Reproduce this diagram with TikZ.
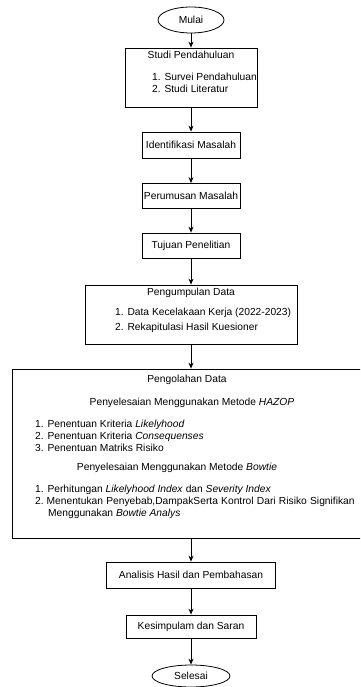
\documentclass[tikz,border=0pt]{standalone}
\usepackage{fontspec}
\setmainfont{Liberation Sans}
\usetikzlibrary{shapes.geometric,arrows.meta}
\tikzset{
	kotak/.style={draw,rectangle,line width=0.8pt,inner sep=0pt},
	oval/.style={draw,ellipse,line width=0.8pt,inner sep=0pt},
	isi/.style={inner sep=0pt}
}
\begin{document}
\begin{tikzpicture}[>={Stealth[length=6pt,width=5pt]},x=1pt,y=-1pt,font=\fontsize{10.25}{12}\selectfont]
		\useasboundingbox (0,0) rectangle (360,687);
		\clip (0,0) rectangle (360,687);
		% terminal dan kotak proses
		\node[oval,minimum width=66pt,minimum height=26pt] (mulai) at (191,20) {Mulai};
		\node[kotak,minimum width=132pt,minimum height=59pt] (studi) at (191,77.5) {};
		\node[kotak,minimum width=98pt,minimum height=26pt] (ident) at (191,145) {Identifikasi Masalah};
		\node[kotak,minimum width=98pt,minimum height=25pt] (rumus) at (191,196) {Perumusan Masalah};
		\node[kotak,minimum width=98pt,minimum height=25pt] (tujuan) at (191,245.5) {Tujuan Penelitian};
		\node[kotak,minimum width=212pt,minimum height=59pt] (kumpul) at (191,314.5) {};
		\node[kotak,minimum width=358pt,minimum height=169pt] (olah) at (191,453.5) {};
		\node[kotak,minimum width=169pt,minimum height=26pt] (analisis) at (191,575) {Analisis Hasil dan Pembahasan};
		\node[kotak,minimum width=130pt,minimum height=23pt] (simpul) at (191,626.5) {Kesimpulam dan Saran};
		\node[oval,minimum width=78pt,minimum height=22pt] (selesai) at (191,676) {Selesai};
		% isi kotak studi
		\node[isi,anchor=mid] (studi-j) at (191,56) {Studi Pendahuluan};
		\node[isi,anchor=mid west] (studi-1) at (152,78) {1. Survei Pendahuluan};
		\node[isi,anchor=mid west] (studi-2) at (152,90) {2. Studi Literatur};
		% isi kotak pengumpulan
		\node[isi,anchor=mid] (kumpul-j) at (191,293) {Pengumpulan Data};
		\node[isi,anchor=mid west] (kumpul-1) at (115,313) {1. Data Kecelakaan Kerja (2022-2023)};
		\node[isi,anchor=mid west] (kumpul-2) at (115,328) {2. Rekapitulasi Hasil Kuesioner};
		% isi kotak pengolahan
		\node[isi,anchor=mid] (olah-j) at (187,380) {Pengolahan Data};
		\node[isi,anchor=mid] (hazop-j) at (192,403) {Penyelesaian Menggunakan Metode \textit{HAZOP}};
		\node[isi,anchor=mid west] (hazop-1) at (35,425) {1. Penentuan Kriteria \textit{Likelyhood}};
		\node[isi,anchor=mid west] (hazop-2) at (35,437) {2. Penentuan Kriteria \textit{Consequenses}};
		\node[isi,anchor=mid west] (hazop-3) at (35,449) {3. Penentuan Matriks Risiko};
		\node[isi,anchor=mid] (bow-j) at (177,468) {Penyelesaian Menggunakan Metode \textit{Bowtie}};
		\node[isi,anchor=mid west] (bow-1) at (35,490) {1. Perhitungan \textit{Likelyhood Index} dan \textit{Severity Index}};
		\node[isi,anchor=mid west] (bow-2) at (35,502) {2.\hspace{2.9pt}\makebox[308pt][s]{Menentukan Penyebab,DampakSerta Kontrol Dari Risiko Signifikan}};
		\node[isi,anchor=mid west] (bow-2b) at (48,514) {Menggunakan \textit{Bowtie Analys}};
		% panah alur
		\foreach \a/\b in {mulai/studi,studi/ident,ident/rumus,rumus/tujuan,tujuan/kumpul,kumpul/olah,olah/analisis,analisis/simpul,simpul/selesai}
		\draw[->,line width=0.8pt] (\a) -- (\b);
\end{tikzpicture}
\end{document}
